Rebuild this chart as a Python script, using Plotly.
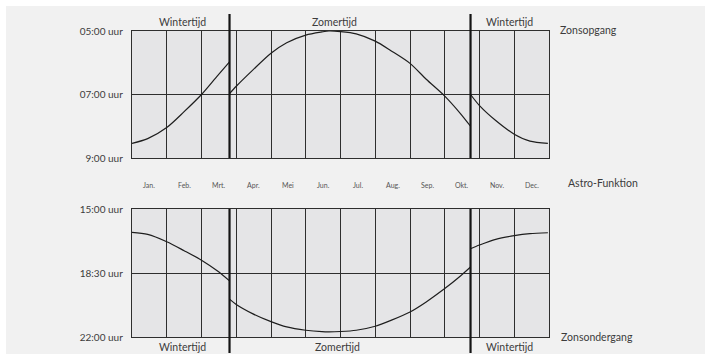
import plotly.graph_objects as go

# ---------------------------------------------------------------- data
months = ["Jan.", "Feb.", "Mrt.", "Apr.", "Mei", "Jun.", "Jul.", "Aug.",
          "Sep.", "Okt.", "Nov.", "Dec."]
days_in_month = [31, 28, 31, 30, 31, 30, 31, 31, 30, 31, 30, 31]

# clock changes (start / end of summer time)
dst_dates = ["03-26", "10-24"]

# sunrise, decimal clock hours
rise_winter1_dates = ["01-01", "01-15", "02-01", "02-15", "03-01", "03-15", "03-26"]
rise_winter1 = [8.54, 8.39, 8.04, 7.54, 7.00, 6.42, 5.97]
rise_summer_dates = ["03-26", "04-01", "04-15", "05-01", "05-15", "06-01", "06-15",
                     "06-21", "07-01", "07-15", "08-01", "08-15", "09-01", "09-15",
                     "10-01", "10-15", "10-24"]
rise_summer = [6.97, 6.74, 6.24, 5.70, 5.37, 5.13, 5.03, 5.00, 5.02, 5.09, 5.32,
               5.62, 6.02, 6.52, 7.05, 7.60, 8.00]
rise_winter2_dates = ["10-24", "11-01", "11-15", "12-01", "12-15", "12-31"]
rise_winter2 = [7.00, 7.35, 7.82, 8.25, 8.47, 8.54]

# sunset, decimal clock hours
set_winter1_dates = ["01-01", "01-15", "02-01", "02-15", "03-01", "03-15", "03-26"]
set_winter1 = [16.28, 16.39, 16.79, 17.28, 17.80, 18.38, 18.93]
set_summer_dates = ["03-26", "04-01", "04-15", "05-01", "05-15", "06-01", "06-15",
                    "06-21", "07-01", "07-15", "08-01", "08-15", "09-01", "09-15",
                    "10-01", "10-15", "10-24"]
set_summer = [19.93, 20.22, 20.72, 21.16, 21.45, 21.63, 21.71, 21.72, 21.70, 21.63,
              21.41, 21.09, 20.63, 20.08, 19.35, 18.66, 18.17]
set_winter2_dates = ["10-24", "11-01", "11-15", "12-01", "12-15", "12-31"]
set_winter2 = [17.17, 16.97, 16.66, 16.46, 16.35, 16.30]

rise_ticks = [5, 7, 9]
rise_ticktext = ["05:00 uur", "07:00 uur", "9:00 uur"]
set_ticks = [15, 18.5, 22]
set_ticktext = ["15:00 uur", "18:30 uur", "22:00 uur"]

# ---------------------------------------------------------------- helpers
W, H = 705, 354
ML, MR, MT, MB = 132, 156, 31, 17
PW, PH = W - ML - MR, H - MT - MB


def month_pos(md):
    m, d = (int(v) for v in md.split("-"))
    return (m - 1) + (d - 1) / days_in_month[m - 1]


def px_x(p):
    return (p - ML) / PW


def px_y(p):
    return (H - MB - p) / PH


FONT = "Lato, 'Open Sans', sans-serif"
TXT = "#3c3c3c"
GRID = "#2e2e2e"
BG = "#f1f1f1"
PLOT_BG = "#e5e5e7"
CURVE = "#1e1e1e"

fig = go.Figure()

segments = [
    ("x", "y", rise_winter1_dates, rise_winter1),
    ("x", "y", rise_summer_dates, rise_summer),
    ("x", "y", rise_winter2_dates, rise_winter2),
    ("x2", "y2", set_winter1_dates, set_winter1),
    ("x2", "y2", set_summer_dates, set_summer),
    ("x2", "y2", set_winter2_dates, set_winter2),
]
for xa, ya, dates, vals in segments:
    fig.add_trace(go.Scatter(
        x=[month_pos(d) for d in dates], y=vals, xaxis=xa, yaxis=ya,
        mode="lines", line=dict(color=CURVE, width=1.2, shape="spline", smoothing=0.8),
        hoverinfo="skip", showlegend=False,
    ))

xcommon = dict(range=[0, 12], tick0=0, dtick=1, showgrid=True, gridcolor=GRID,
               gridwidth=1.4, showline=True, mirror=True, linecolor=GRID, linewidth=1.4,
               zeroline=False, showticklabels=False, ticks="", fixedrange=True)
ycommon = dict(showgrid=True, gridcolor=GRID, gridwidth=1.4, showline=True,
               mirror=True, linecolor=GRID, linewidth=1.4, zeroline=False, ticks="",
               ticklabelstandoff=6, tickfont=dict(family=FONT, size=10, color=TXT),
               fixedrange=True)

top_dom = [px_y(158), 1.0]
bot_dom = [0.0, px_y(209)]

fig.update_layout(
    width=W, height=H, autosize=False,
    margin=dict(l=ML, r=MR, t=MT, b=MB, pad=0),
    paper_bgcolor=BG, plot_bgcolor=PLOT_BG,
    xaxis=dict(domain=[0, 1], anchor="y", **xcommon),
    yaxis=dict(domain=top_dom, anchor="x", range=[9, 5], tickvals=rise_ticks,
               ticktext=rise_ticktext, **ycommon),
    xaxis2=dict(domain=[0, 1], anchor="y2", **xcommon),
    yaxis2=dict(domain=bot_dom, anchor="x2", range=[22, 15], tickvals=set_ticks,
                ticktext=set_ticktext, **ycommon),
)

shapes = []
# white frame strips along the top and left edge
shapes.append(dict(type="rect", xref="paper", yref="paper", x0=px_x(-5), x1=px_x(W + 5),
                   y0=px_y(6), y1=px_y(-5), fillcolor="white", line_width=0, layer="below"))
shapes.append(dict(type="rect", xref="paper", yref="paper", x0=px_x(-5), x1=px_x(6),
                   y0=px_y(H + 5), y1=px_y(-5), fillcolor="white", line_width=0, layer="below"))
# clock-change markers, reaching beyond each panel
for d in dst_dates:
    xp = month_pos(d)
    for y0, y1 in [(14, 158), (209, 353)]:
        shapes.append(dict(type="line", xref="x", yref="paper", x0=xp, x1=xp,
                           y0=px_y(y1), y1=px_y(y0),
                           line=dict(color="#141414", width=2.2), layer="above"))
fig.update_layout(shapes=shapes)

ann = []


def label(text, xpx, ypx, size=10.5, anchor="center", color=TXT):
    ann.append(dict(text=text, xref="paper", yref="paper", x=px_x(xpx), y=px_y(ypx),
                    xanchor=anchor, yanchor="middle", showarrow=False,
                    font=dict(family=FONT, size=size, color=color)))


label("Wintertijd", 182, 22)
label("Zomertijd", 334, 22)
label("Wintertijd", 509, 22)
label("Zonsopgang", 558, 30, anchor="left")
label("Astro-Funktion", 566, 183, anchor="left")
label("Zonsondergang", 559, 337, anchor="left")
label("Wintertijd", 182, 347)
label("Zomertijd", 337, 347)
label("Wintertijd", 509, 347)

for i, m in enumerate(months):
    ann.append(dict(text=m, xref="x", yref="paper", x=i + 0.5, y=px_y(185),
                    xanchor="center", yanchor="middle", showarrow=False,
                    font=dict(family=FONT, size=7, color="#555555")))

fig.update_layout(annotations=ann)

fig.write_html("out.html")
